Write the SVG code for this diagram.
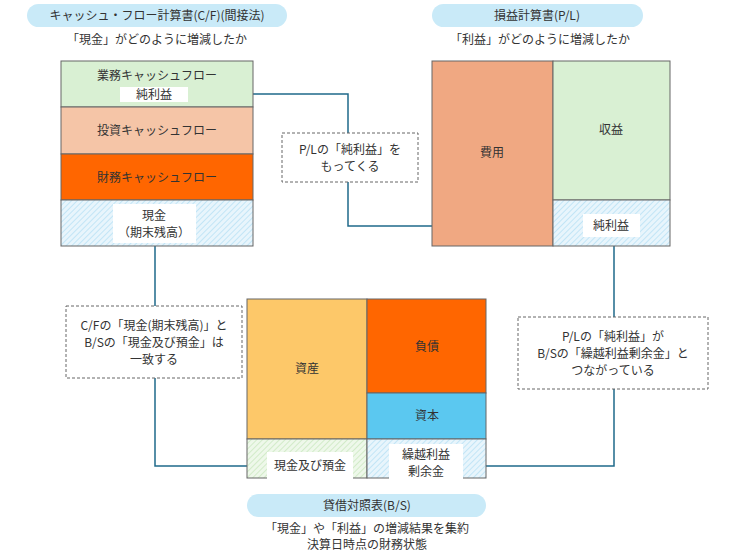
<svg xmlns="http://www.w3.org/2000/svg" width="743" height="558" viewBox="0 0 743 558">
<defs>
<pattern id="hb" width="4" height="4" patternUnits="userSpaceOnUse" patternTransform="rotate(45)"><rect width="4" height="4" fill="#e8f5fc"/><line x1="0" y1="0" x2="0" y2="4" stroke="#a9dbf2" stroke-width="1.2"/></pattern>
<pattern id="hg" width="4" height="4" patternUnits="userSpaceOnUse" patternTransform="rotate(45)"><rect width="4" height="4" fill="#eef8ea"/><line x1="0" y1="0" x2="0" y2="4" stroke="#bfe3b3" stroke-width="1.2"/></pattern>
<marker id="ar" viewBox="0 0 10 10" refX="9" refY="5" markerWidth="8" markerHeight="8" orient="auto"><path d="M0,1 L10,5 L0,9 Z" fill="#1f6a8a"/></marker>
</defs>
<style>
text{font-family:"Noto Sans CJK JP",sans-serif;font-size:12px;fill:#333;text-anchor:middle}
.b{stroke:#666;stroke-width:1}
.pill{fill:#c9eaf8}
.lab{fill:#fff}
.dash{fill:#fff;stroke:#666;stroke-dasharray:3,2}
.c{fill:none;stroke:#1f6a8a;stroke-width:1.5;marker-end:url(#ar)}
</style>
<rect width="743" height="558" fill="#fff"/>
<g id="connectors">
<path class="c" d="M583,226 H348 V94 H194"/>
<path class="c" d="M155,246 V466 H264"/>
<path class="c" d="M614,237 V466 H466"/>
</g>
<g id="cf-title"><rect class="pill" x="27" y="4" width="260" height="23" rx="11.5"/><text x="157" y="20">キャッシュ・フロー計算書(C/F)(間接法)</text><text x="157" y="44">「現金」がどのように増減したか</text></g>
<g id="cf">
<rect class="b" x="61" y="61" width="192" height="46" fill="#d9f0d3"/>
<text x="157" y="80">業務キャッシュフロー</text>
<rect class="lab" x="120" y="87" width="68" height="15"/><text x="154" y="99">純利益</text>
<rect class="b" x="61" y="107" width="192" height="47" fill="#f5c5a7"/><text x="157" y="135">投資キャッシュフロー</text>
<rect class="b" x="61" y="154" width="192" height="46" fill="#ff6600"/><text x="157" y="182">財務キャッシュフロー</text>
<rect class="b" x="61" y="200" width="192" height="46" fill="url(#hb)"/>
<rect class="lab" x="113" y="204" width="83" height="39"/><text x="154" y="220">現金</text><text x="154" y="237">（期末残高）</text>
</g>
<g id="pl-title"><rect class="pill" x="432" y="4" width="211" height="23" rx="11.5"/><text x="537" y="20">損益計算書(P/L)</text><text x="540" y="44">「利益」がどのように増減したか</text></g>
<g id="pl">
<rect class="b" x="432" y="61" width="121" height="185" fill="#f0a882"/><text x="492" y="157">費用</text>
<rect class="b" x="553" y="61" width="117" height="139" fill="#d9f0d3"/><text x="611" y="134">収益</text>
<rect class="b" x="553" y="200" width="117" height="46" fill="url(#hb)"/>
<rect class="lab" x="583" y="214" width="57" height="23"/><text x="611" y="230">純利益</text>
</g>
<g id="bs">
<rect class="b" x="247" y="299" width="120" height="140" fill="#fdc869"/><text x="307" y="373">資産</text>
<rect class="b" x="367" y="299" width="119" height="94" fill="#ff6600"/><text x="427" y="351">負債</text>
<rect class="b" x="367" y="393" width="119" height="46" fill="#5bc8f0"/><text x="427" y="420">資本</text>
<rect class="b" x="247" y="439" width="120" height="39" fill="url(#hg)"/>
<rect class="lab" x="267" y="452" width="86" height="27"/><text x="310" y="470">現金及び預金</text>
<rect class="b" x="367" y="439" width="119" height="39" fill="url(#hb)"/>
<rect class="lab" x="389" y="444" width="74" height="38"/><text x="426" y="459">繰越利益</text><text x="426" y="476">剰余金</text>
</g>
<g id="bs-title"><rect class="pill" x="247" y="494" width="239" height="23" rx="11.5"/><text x="367" y="510">貸借対照表(B/S)</text><text x="367" y="533">「現金」や「利益」の増減結果を集約</text><text x="367" y="549">決算日時点の財務状態</text></g>
<g id="note1"><rect class="dash" x="282" y="133" width="136" height="49"/><text x="350" y="154">P/Lの「純利益」を</text><text x="350" y="171">もってくる</text></g>
<g id="note2"><rect class="dash" x="66" y="306" width="176" height="72"/><text x="154" y="330">C/Fの「現金(期末残高)」と</text><text x="154" y="347">B/Sの「現金及び預金」は</text><text x="154" y="364">一致する</text></g>
<g id="note3"><rect class="dash" x="518" y="317" width="190" height="72"/><text x="613" y="341">P/Lの「純利益」が</text><text x="613" y="358">B/Sの「繰越利益剰余金」と</text><text x="613" y="375">つながっている</text></g>
</svg>
